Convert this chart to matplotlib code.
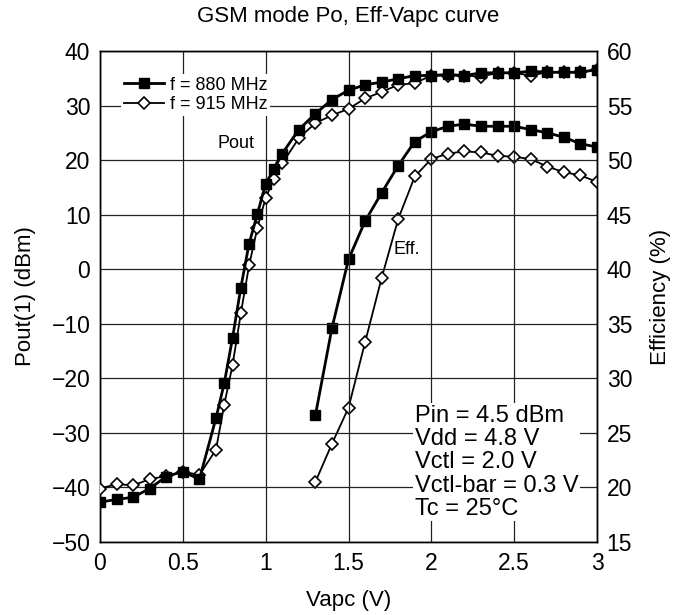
import matplotlib.pyplot as plt

plt.rcParams['font.family'] = ['Liberation Sans', 'DejaVu Sans']

# Pout (dBm) vs Vapc
vapc_pout = [0.0, 0.1, 0.2, 0.3, 0.4, 0.5, 0.6, 0.7, 0.75, 0.8, 0.85, 0.9, 0.95, 1.0, 1.05, 1.1,
             1.2, 1.3, 1.4, 1.5, 1.6, 1.7, 1.8, 1.9, 2.0, 2.1, 2.2, 2.3, 2.4, 2.5, 2.6, 2.7, 2.8, 2.9, 3.0]
pout_880 = [-42.7, -42.2, -41.8, -40.2, -38.0, -37.1, -38.5, -27.3, -20.9, -12.6, -3.4, 4.7, 10.1, 15.7, 18.3, 21.2,
            25.6, 28.5, 31.1, 32.8, 33.8, 34.3, 34.9, 35.5, 35.5, 35.7, 35.5, 36.0, 36.0, 36.0, 36.3, 36.1, 36.1, 36.1, 36.6]
pout_915 = [-40.2, -39.4, -39.6, -38.5, -37.9, -37.1, -37.7, -33.1, -24.8, -17.6, -8.1, 0.7, 7.6, 13.1, 16.5, 19.4,
            24.0, 26.8, 28.2, 29.4, 31.3, 32.5, 33.8, 34.1, 35.5, 35.5, 35.5, 35.3, 36.0, 36.0, 35.5, 36.1, 36.1, 36.1, 36.6]

# Efficiency (%) vs Vapc
vapc_eff = [1.3, 1.4, 1.5, 1.6, 1.7, 1.8, 1.9, 2.0, 2.1, 2.2, 2.3, 2.4, 2.5, 2.6, 2.7, 2.8, 2.9, 3.0]
eff_880 = [26.6, 34.6, 40.9, 44.4, 47.0, 49.5, 51.7, 52.6, 53.1, 53.3, 53.1, 53.1, 53.1, 52.8, 52.5, 52.1, 51.5, 51.2]
eff_915 = [20.5, 24.0, 27.3, 33.3, 39.2, 44.6, 48.5, 50.1, 50.6, 50.8, 50.7, 50.4, 50.3, 50.1, 49.4, 48.9, 48.6, 48.0]

conditions = ['Pin = 4.5 dBm', 'Vdd = 4.8 V', 'Vctl = 2.0 V', 'Vctl-bar = 0.3 V', 'Tc = 25°C']

fig = plt.figure(figsize=(6.77, 6.15), dpi=100)
ax = fig.add_axes([100 / 677, 1 - 542 / 615, 497 / 677, 491 / 615])
ax2 = ax.twinx()

sq = dict(color='black', marker='s', markersize=7, lw=2.0, markerfacecolor='black')
dm = dict(color='black', marker='D', markersize=6.5, lw=1.3, markerfacecolor='white', markeredgewidth=1.2)

ax.plot(vapc_pout, pout_915, label='f = 915 MHz', zorder=3, **dm)
ax.plot(vapc_pout, pout_880, label='f = 880 MHz', zorder=4, **sq)
ax2.plot(vapc_eff, eff_915, zorder=3, **dm)
ax2.plot(vapc_eff, eff_880, zorder=4, **sq)

ax.set_xlim(0, 3)
ax.set_ylim(-50, 40)
ax2.set_ylim(15, 60)
ax.set_xticks([0, 0.5, 1, 1.5, 2, 2.5, 3])
ax.set_xticklabels(['0', '0.5', '1', '1.5', '2', '2.5', '3'])
ax.set_yticks(range(-50, 41, 10))
ax2.set_yticks(range(15, 61, 5))
ax.grid(True, color='#222222', lw=0.9)
ax.tick_params(length=0, labelsize=16.5, pad=7)
ax2.tick_params(length=0, labelsize=16.5, pad=7)
for a in (ax, ax2):
    for s in a.spines.values():
        s.set_linewidth(1.0)

ax.set_xlabel('Vapc (V)', fontsize=16, labelpad=11)
ax.set_ylabel('Pout(1) (dBm)', fontsize=16, labelpad=11)
ax2.set_ylabel('Efficiency (%)', fontsize=16, labelpad=13, rotation=90)
ax.set_title('GSM mode Po, Eff-Vapc curve', fontsize=16, pad=21)

h, l = ax.get_legend_handles_labels()
leg = ax.legend(h[::-1], l[::-1], loc='upper left', bbox_to_anchor=(0.043, 0.953), frameon=True,
                fontsize=13, handlelength=2.2, handletextpad=0.35, labelspacing=0.15, borderpad=0.15,
                borderaxespad=0.0)
leg.get_frame().set_edgecolor('none')
leg.get_frame().set_facecolor('white')
leg.get_frame().set_alpha(1)

ax.text(0.82, 23.1, 'Pout', fontsize=13, ha='center', va='center')
ax.text(1.85, 3.7, 'Eff.', fontsize=13, ha='center', va='center')

ax.text(1.9, -35.4, '\n'.join(conditions), fontsize=17, ha='left', va='center', linespacing=1.08,
        bbox=dict(facecolor='white', edgecolor='none', pad=1), zorder=5)

ax.set_zorder(ax2.get_zorder() + 1)
ax.patch.set_visible(False)

fig.savefig('out.png', dpi=100)
